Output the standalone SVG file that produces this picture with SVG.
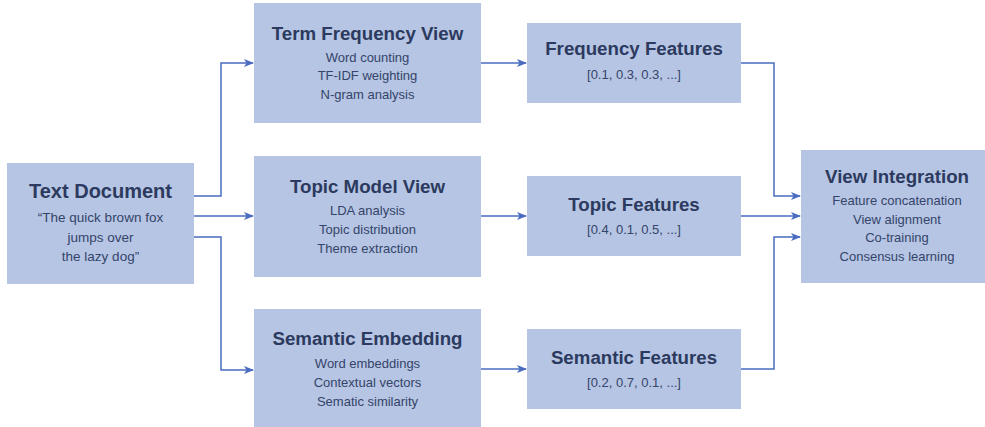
<svg xmlns="http://www.w3.org/2000/svg" width="985" height="427" viewBox="0 0 985 427">
<style>
.box{fill:#b6c5e3;}
.t{font-family:"Liberation Sans",Arial,sans-serif;font-size:18.7px;font-weight:bold;fill:#2b3a5e;text-anchor:middle;}
.s{font-family:"Liberation Sans",Arial,sans-serif;font-size:13px;fill:#34446a;text-anchor:middle;}
.tb{font-size:20px;}
.sb{font-size:13.5px;}
.c{fill:none;stroke:#4a6cc0;stroke-width:1.5;marker-end:url(#a);}
</style>
<defs>
<marker id="a" markerWidth="10" markerHeight="8" refX="9" refY="4" orient="auto" markerUnits="userSpaceOnUse">
<path d="M0,0 L10,4 L0,8 L2.5,4 Z" fill="#4a6cc0"/>
</marker>
</defs>
<rect width="985" height="427" fill="#ffffff"/>
<g id="connectors">
<path class="c" d="M194,196 H221 V63 H253"/>
<path class="c" d="M194,216 H253"/>
<path class="c" d="M194,237 H221 V370 H253"/>
<path class="c" d="M481,63 H526"/>
<path class="c" d="M481,216 H526"/>
<path class="c" d="M481,369 H526"/>
<path class="c" d="M741,63 H774 V196 H800"/>
<path class="c" d="M741,216 H800"/>
<path class="c" d="M741,369 H774 V237 H800"/>
</g>
<g id="text-document">
<rect class="box" x="7" y="163" width="187" height="121"/>
<text class="t tb" x="100.5" y="198">Text Document</text>
<text class="s sb" x="100.5" y="222">“The quick brown fox</text>
<text class="s sb" x="100.5" y="242">jumps over</text>
<text class="s sb" x="100.5" y="261">the lazy dog”</text>
</g>
<g id="term-frequency-view">
<rect class="box" x="254" y="3" width="227" height="120"/>
<text class="t" x="367.5" y="40">Term Frequency View</text>
<text class="s" x="367.5" y="62">Word counting</text>
<text class="s" x="367.5" y="80">TF-IDF weighting</text>
<text class="s" x="367.5" y="99">N-gram analysis</text>
</g>
<g id="topic-model-view">
<rect class="box" x="254" y="156" width="227" height="121"/>
<text class="t" x="367.5" y="193">Topic Model View</text>
<text class="s" x="367.5" y="215">LDA analysis</text>
<text class="s" x="367.5" y="234">Topic distribution</text>
<text class="s" x="367.5" y="253">Theme extraction</text>
</g>
<g id="semantic-embedding">
<rect class="box" x="254" y="309" width="227" height="121"/>
<text class="t" x="367.5" y="345">Semantic Embedding</text>
<text class="s" x="367.5" y="368">Word embeddings</text>
<text class="s" x="367.5" y="387">Contextual vectors</text>
<text class="s" x="367.5" y="406">Sematic similarity</text>
</g>
<g id="frequency-features">
<rect class="box" x="527" y="23" width="214" height="80"/>
<text class="t" x="634" y="55">Frequency Features</text>
<text class="s" x="634" y="79">[0.1, 0.3, 0.3, ...]</text>
</g>
<g id="topic-features">
<rect class="box" x="527" y="176" width="214" height="80"/>
<text class="t" x="634" y="211">Topic Features</text>
<text class="s" x="634" y="234">[0.4, 0.1, 0.5, ...]</text>
</g>
<g id="semantic-features">
<rect class="box" x="527" y="329" width="214" height="80"/>
<text class="t" x="634" y="364">Semantic Features</text>
<text class="s" x="634" y="387">[0.2, 0.7, 0.1, ...]</text>
</g>
<g id="view-integration">
<rect class="box" x="801" y="150" width="192" height="133"/>
<text class="t" x="897" y="183">View Integration</text>
<text class="s" x="897" y="205">Feature concatenation</text>
<text class="s" x="897" y="224">View alignment</text>
<text class="s" x="897" y="242">Co-training</text>
<text class="s" x="897" y="261">Consensus learning</text>
</g>
</svg>
